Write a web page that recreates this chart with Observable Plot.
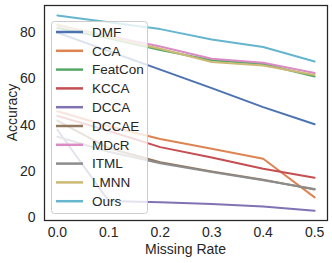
<!DOCTYPE html>
<html><head><meta charset="utf-8">
<script src="https://cdn.jsdelivr.net/npm/d3@7"></script>
<script src="https://cdn.jsdelivr.net/npm/@observablehq/plot@0.6"></script>
<style>body{margin:0;background:#fff} svg{display:block}</style>
</head><body><div id="chart"></div>
<script>
const missingRates = [0.0, 0.1, 0.2, 0.3, 0.4, 0.5];
const xTicks = [0.0, 0.1, 0.2, 0.3, 0.4, 0.5];
const yTicks = [0, 20, 40, 60, 80];
const methods = ["DMF", "CCA", "FeatCon", "KCCA", "DCCA", "DCCAE", "MDcR", "ITML", "LMNN", "Ours"];
const colors = ["#4c72b0", "#dd8452", "#55a868", "#c44e52", "#8172b3", "#937860", "#da8bc3", "#8c8c8c", "#ccb974", "#64b5cd"];

const DMF     = [80.0, 72.0, 64.0, 56.0, 47.8, 40.4];
const CCA     = [46.0, 39.5, 34.0, 29.8, 25.5, 8.8];
const FeatCon = [82.0, 77.5, 72.5, 68.0, 66.4, 61.0];
const KCCA    = [44.0, 37.5, 30.5, 26.0, 21.2, 17.3];
const DCCA    = [38.0, 7.2, 6.7, 5.9, 4.8, 3.0];
const DCCAE   = [42.0, 30.0, 24.0, 20.0, 16.4, 12.2];
const MDcR    = [83.0, 78.5, 74.0, 68.7, 67.0, 62.5];
const ITML    = [35.0, 28.5, 23.5, 19.7, 16.2, 12.4];
const LMNN    = [83.5, 78.0, 73.0, 67.3, 65.8, 61.7];
const Ours    = [87.4, 84.5, 81.5, 77.0, 73.8, 67.5];

const seriesList = [DMF, CCA, FeatCon, KCCA, DCCA, DCCAE, MDcR, ITML, LMNN, Ours];
const rows = [];
methods.forEach((m, i) => seriesList[i].forEach((v, j) => rows.push({method: m, rate: missingRates[j], acc: v})));

const font = "'Liberation Sans', Arial, 'DejaVu Sans', sans-serif";
const W = 332, H = 263;
const plot = Plot.plot({
  width: W, height: H,
  marginLeft: 44, marginRight: 5, marginTop: 5, marginBottom: 43,
  style: {fontFamily: font, fontSize: "14px", color: "#262626", background: "#fff"},
  x: {domain: [-0.025, 0.525], ticks: xTicks, tickFormat: d => d.toFixed(1), tickSize: 0, tickPadding: 7, label: null},
  y: {domain: [-1.2, 91.7], ticks: yTicks, tickSize: 0, tickPadding: 9, label: null},
  color: {domain: methods, range: colors},
  marks: [
    Plot.lineY(rows, {x: "rate", y: "acc", z: "method", stroke: "method", strokeWidth: 2}),
    Plot.frame({stroke: "#262626", strokeWidth: 1.25})
  ]
});
document.getElementById("chart").appendChild(plot);

const svg = d3.select(plot);
svg.append("text").attr("x", (44 + W - 5) / 2).attr("y", 254)
  .style("text-anchor", "middle").style("font-family", font).style("font-size", "14px").style("fill", "#262626")
  .text("Missing Rate");
svg.append("text").attr("transform", `translate(17,${(5 + H - 43) / 2}) rotate(-90)`)
  .style("text-anchor", "middle").style("font-family", font).style("font-size", "14px").style("fill", "#262626")
  .text("Accuracy");

// legend box: opaque white, then a faint clipped copy of the plotted lines (matplotlib framealpha look)
const box = {x: 51.5, y: 21.5, w: 96, h: 192};
svg.append("defs").append("clipPath").attr("id", "legclip")
  .append("rect").attr("x", box.x).attr("y", box.y).attr("width", box.w).attr("height", box.h);
svg.append("rect").attr("x", box.x).attr("y", box.y).attr("width", box.w).attr("height", box.h).attr("rx", 3).attr("ry", 3)
  .style("fill", "#ffffff").style("stroke", "none");
const lineGroup = plot.querySelector("g[aria-label='line']");
if (lineGroup) {
  const ghost = lineGroup.cloneNode(true);
  ghost.setAttribute("clip-path", "url(#legclip)");
  ghost.setAttribute("opacity", "0.2");
  plot.appendChild(ghost);
}
svg.append("rect").attr("x", box.x).attr("y", box.y).attr("width", box.w).attr("height", box.h).attr("rx", 3).attr("ry", 3)
  .style("fill", "none").style("stroke", "#cccccc").style("stroke-width", 1);
methods.forEach((m, i) => {
  const yy = 32 + i * 18.8;
  svg.append("line").attr("x1", 56).attr("x2", 83).attr("y1", yy).attr("y2", yy)
    .style("stroke", colors[i]).style("stroke-width", 2.5);
  svg.append("text").attr("x", 92).attr("y", yy).attr("dy", "0.36em")
    .style("text-anchor", "start").style("font-family", font).style("font-size", "13.5px").style("fill", "#262626").text(m);
});
</script>
</body></html>
